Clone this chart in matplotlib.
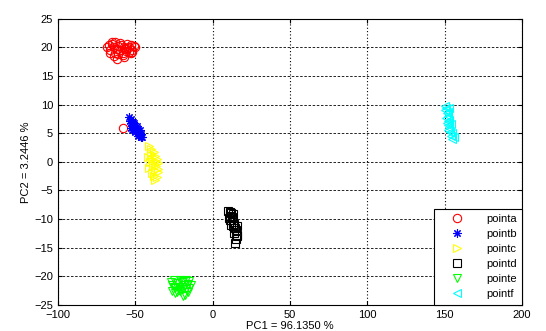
import matplotlib
matplotlib.use("Agg")
import matplotlib.pyplot as plt

# cluster coordinates
ax_pts = [-68, -67, -66, -65, -64, -63, -62, -61, -60, -59, -58, -57, -56, -55, -54, -53, -52, -51, -50,
          -66, -64, -62, -60, -58, -56, -54, -52, -65, -63, -61, -57, -55, -53, -58]
ay_pts = [20, 20.5, 19.5, 21, 20, 19, 18, 20.2, 19.5, 20.5, 19, 20, 19.8, 20.6, 19.2, 20.4, 19.6, 20.3, 20.1,
          19, 18.5, 19.8, 20.8, 18.6, 19.4, 20.1, 19.2, 20.6, 20.9, 18.9, 18.4, 19.9, 19.1, 6]

bx_pts = [-54, -53.5, -53, -52.5, -52, -51.5, -51, -50.5, -50, -49.5, -49, -48.5, -48, -47.5, -47, -46.5, -46, -45.5,
          -53, -52, -51, -50, -49, -48, -47]
by_pts = [7.8, 7.2, 6.8, 7.5, 6.2, 6.9, 5.8, 6.5, 6.0, 5.4, 5.9, 5.0, 5.5, 4.7, 5.1, 4.4, 4.8, 4.3,
          6.0, 5.5, 6.8, 5.2, 6.3, 4.5, 5.6]

cx_pts = [-41, -40, -39.5, -41.5, -40.5, -39, -38.5, -41, -40, -38, -37, -36, -35, -37.5, -36.5, -35.5,
          -38, -37, -36, -39, -35, -36.5, -37.5]
cy_pts = [2.8, 2.2, 1.5, 0.8, 0.0, 0.5, -0.5, -1.0, 1.2, 1.8, 1.0, 0.5, -0.2, -1.5, -0.8, -1.8,
          -2.5, -3.2, -2.6, -1.9, -1.2, 0.2, -0.4]

dx_pts = [10, 11, 12, 10.5, 11.5, 12.5, 13, 12, 13.5, 14, 14.5, 15, 14, 15.5, 16, 15, 16, 14.5, 13, 11]
dy_pts = [-8.6, -8.8, -9.0, -9.8, -10.2, -9.6, -10.5, -11, -11.3, -10.8, -11.6, -12.0, -12.4, -11.2,
          -12.8, -13.4, -13.0, -14.2, -9.2, -9.4]

ex_pts = [-27, -26, -25, -24, -23, -22, -21, -20, -19, -18, -17, -16, -15, -14,
          -26, -24, -22, -20, -18, -16, -25, -23, -19, -17, -15, -21, -19]
ey_pts = [-21, -21.5, -20.6, -22, -21.2, -21.8, -22.6, -21, -20.8, -21.6, -22.2, -21.4, -20.8, -21.5,
          -22.5, -23, -22.4, -21.8, -23.2, -22.8, -21.8, -22.8, -22.2, -20.6, -22, -20.7, -23.5]

fx_pts = [150, 151, 150.5, 151.5, 152, 151, 152.5, 151.5, 152, 153, 152.5, 153.5, 154, 153, 152, 153,
          154, 155, 156, 155]
fy_pts = [9.8, 9.5, 9.0, 8.6, 8.0, 7.6, 7.2, 6.8, 6.4, 6.0, 5.6, 5.2, 6.6, 7.4, 8.8, 9.4,
          4.6, 4.0, 4.4, 5.0]

labels = ["pointa", "pointb", "pointc", "pointd", "pointe", "pointf"]
xticks = [-100, -50, 0, 50, 100, 150, 200]
yticks = [-25, -20, -15, -10, -5, 0, 5, 10, 15, 20, 25]

plt.rcParams["font.family"] = "Liberation Sans"
fig = plt.figure(figsize=(5.46, 3.31), dpi=100)
ax = fig.add_axes([0.106, 0.079, 0.850, 0.864])

series = [
    (ax_pts, ay_pts, "o", "red"),
    (bx_pts, by_pts, (8, 2, 0), "blue"),
    (cx_pts, cy_pts, ">", "yellow"),
    (dx_pts, dy_pts, "s", "black"),
    (ex_pts, ey_pts, "v", "lime"),
    (fx_pts, fy_pts, "<", "cyan"),
]
for (xs, ys, m, c), lab in zip(series, labels):
    ax.plot(xs, ys, linestyle="none", marker=m, markersize=6, markerfacecolor="none",
            markeredgecolor=c, markeredgewidth=0.8, label=lab)

ax.set_xlim(-100, 200)
ax.set_ylim(-25, 25)
ax.set_xticks(xticks)
ax.set_yticks(yticks)
ax.tick_params(direction="in", top=True, right=True, labelsize=8, length=3)
ax.xaxis.grid(True, color="black", linestyle=(0, (1, 2)), linewidth=0.8)
ax.yaxis.grid(True, color="black", linestyle=(0, (3, 2)), linewidth=0.6)
ax.set_xlabel("PC1 = 96.1350 %", fontsize=8, labelpad=1)
ax.set_ylabel("PC2 = 3.2446 %", fontsize=8, labelpad=2)

leg = ax.legend(loc="lower right", fontsize=8, fancybox=False, edgecolor="black", framealpha=1,
                borderaxespad=0, handlelength=3.2, handletextpad=1.0, labelspacing=0.45,
                borderpad=0.5)
leg.get_frame().set_linewidth(0.8)

fig.savefig("out.png", dpi=100)
